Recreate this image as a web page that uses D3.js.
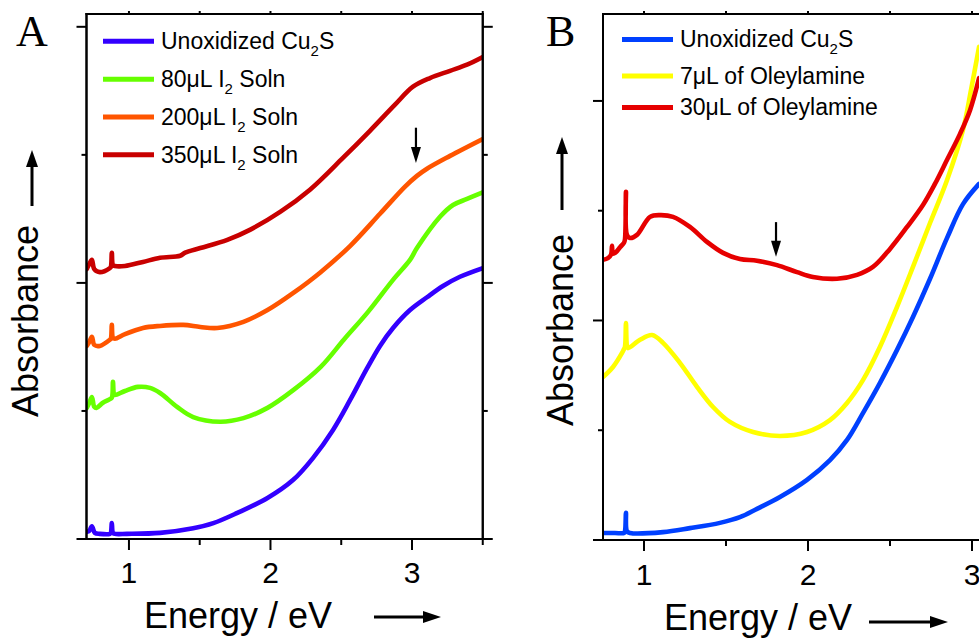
<!DOCTYPE html>
<html>
<head>
<meta charset="utf-8">
<script src="https://cdn.jsdelivr.net/npm/d3@7"></script>
<style>
  html, body { margin: 0; padding: 0; background: #fff; }
  svg { display: block; font-family: "Liberation Sans", Arial, sans-serif; }
</style>
</head>
<body>
<svg id="fig" width="979" height="639"></svg>
<script>
// ---- Panel A: Cu2S nanocrystals oxidized with I2 solution ----
// Each spectrum is a list of [energy (eV), absorbance (a.u., vertically offset)]
const unoxidizedA = [
  [0.702,0.014],[0.720,0.016],[0.738,0.025],[0.759,0.012],[0.794,0.010],[0.865,0.010],
  [0.872,0.012],[0.879,0.031],[0.887,0.012],[0.901,0.010],[0.986,0.010],[1.220,0.012],
  [1.454,0.021],[1.596,0.031],[1.766,0.051],[1.979,0.080],[2.159,0.115],[2.300,0.158],
  [2.442,0.213],[2.562,0.271],[2.682,0.333],[2.774,0.377],[2.866,0.412],[2.986,0.447],
  [3.106,0.472],[3.219,0.494],[3.339,0.512],[3.500,0.529]
];
const iodine80 = [
  [0.702,0.256],[0.720,0.266],[0.738,0.277],[0.755,0.258],[0.770,0.256],[0.816,0.266],
  [0.865,0.273],[0.879,0.276],[0.887,0.307],[0.894,0.283],[0.901,0.281],[0.972,0.289],
  [1.064,0.297],[1.149,0.295],[1.220,0.285],[1.340,0.258],[1.454,0.238],[1.645,0.229],
  [1.809,0.236],[1.979,0.256],[2.163,0.291],[2.355,0.336],[2.518,0.389],[2.688,0.443],
  [2.866,0.506],[2.986,0.545],[3.035,0.568],[3.198,0.629],[3.290,0.652],[3.389,0.664],
  [3.500,0.677]
];
const iodine200 = [
  [0.702,0.377],[0.720,0.385],[0.738,0.395],[0.755,0.379],[0.794,0.377],[0.865,0.389],
  [0.872,0.391],[0.879,0.418],[0.887,0.393],[0.901,0.391],[0.972,0.400],[1.099,0.412],
  [1.220,0.416],[1.383,0.418],[1.504,0.414],[1.624,0.412],[1.809,0.424],[1.979,0.447],
  [2.159,0.480],[2.350,0.520],[2.562,0.572],[2.774,0.635],[2.951,0.688],[3.035,0.709],
  [3.106,0.723],[3.269,0.748],[3.500,0.781]
];
const iodine350 = [
  [0.702,0.527],[0.720,0.537],[0.738,0.545],[0.755,0.527],[0.794,0.521],[0.865,0.529],
  [0.872,0.531],[0.879,0.559],[0.887,0.535],[0.901,0.533],[0.972,0.533],[1.099,0.541],
  [1.220,0.549],[1.362,0.553],[1.397,0.559],[1.504,0.568],[1.695,0.584],[1.858,0.604],
  [2.071,0.639],[2.279,0.682],[2.512,0.744],[2.703,0.797],[2.880,0.848],[3.007,0.883],
  [3.127,0.900],[3.269,0.914],[3.389,0.926],[3.500,0.941]
];
const labelsA = ["Unoxidized Cu_2S", "80\u03bcL I_2 Soln", "200\u03bcL I_2 Soln", "350\u03bcL I_2 Soln"];
const colorsA = ["#3300ff", "#66ff00", "#ff5500", "#c80000"];

// ---- Panel B: Cu2S nanocrystals treated with oleylamine ----
const unoxidizedB = [
  [0.750,0.016],[0.823,0.016],[0.878,0.016],[0.884,0.020],[0.890,0.062],[0.896,0.020],
  [0.915,0.016],[1.116,0.018],[1.280,0.027],[1.463,0.039],[1.585,0.052],[1.689,0.071],
  [1.829,0.098],[1.994,0.137],[2.134,0.182],[2.238,0.228],[2.335,0.289],[2.439,0.358],
  [2.543,0.433],[2.640,0.508],[2.744,0.595],[2.848,0.688],[2.945,0.765],[3.043,0.811]
];
const oleylamine7 = [
  [0.750,0.371],[0.811,0.394],[0.866,0.426],[0.878,0.435],[0.884,0.440],[0.890,0.494],
  [0.896,0.442],[0.902,0.437],[0.976,0.456],[1.049,0.467],[1.116,0.449],[1.220,0.403],
  [1.323,0.349],[1.421,0.303],[1.524,0.269],[1.665,0.246],[1.829,0.237],[1.994,0.246],
  [2.134,0.273],[2.238,0.312],[2.335,0.364],[2.439,0.440],[2.543,0.531],[2.640,0.622],
  [2.744,0.722],[2.848,0.820],[2.945,0.934],[2.994,1.025],[3.043,1.123]
];
const oleylamine30 = [
  [0.750,0.638],[0.780,0.642],[0.799,0.650],[0.805,0.670],[0.811,0.652],[0.830,0.656],
  [0.854,0.667],[0.878,0.677],[0.884,0.685],[0.890,0.793],[0.896,0.695],[0.915,0.688],
  [0.957,0.695],[1.037,0.736],[1.098,0.740],[1.177,0.736],[1.280,0.713],[1.384,0.679],
  [1.482,0.654],[1.585,0.640],[1.689,0.636],[1.811,0.626],[1.933,0.610],[2.030,0.599],
  [2.177,0.595],[2.299,0.604],[2.396,0.622],[2.500,0.663],[2.604,0.713],[2.701,0.763],
  [2.774,0.811],[2.848,0.866],[2.927,0.925],[2.988,0.979],[3.043,1.052]
];
const labelsB = ["Unoxidized Cu_2S", "7\u03bcL of Oleylamine", "30\u03bcL of Oleylamine"];
const colorsB = ["#0040ff", "#ffff00", "#e60000"];

// Shared tick values
const xMajor = [1, 2, 3];
const xMinorA = [1.5, 2.5, 3.5];
const xMinorB = [1.5, 2.5];
const yMajor = [0, 0.5, 1];
const yMinor = [0.25, 0.75];

// Feature markers: [energy, arrow tail absorbance, arrow tip absorbance]
const markerA = [3.028, 0.803, 0.734];
const markerB = [1.805, 0.724, 0.645];

const svg = d3.select("#fig");

function subscriptText(sel, label) {
  // "Cu_2S" -> Cu, subscript 2, S
  const parts = label.split(/_(.)/);
  parts.forEach((t, i) => {
    if (t === "") return;
    const sub = i % 2 === 1;
    const ts = sel.append("tspan").text(t);
    if (sub) ts.attr("font-size", 15).attr("dy", 7);
    else if (i > 0) ts.attr("dy", -7);
  });
}

function arrowHead(g, x, y, dir, len, half) {
  // dir: "up", "down", "right"
  let pts;
  if (dir === "up") pts = [[x, y], [x - half, y + len], [x + half, y + len]];
  else if (dir === "down") pts = [[x, y], [x - half, y - len], [x + half, y - len]];
  else pts = [[x, y], [x - len, y - half], [x - len, y + half]];
  g.append("polygon").attr("points", pts.map(p => p.join(",")).join(" ")).attr("fill", "#000");
}

function drawPanel(p) {
  const g = svg.append("g");
  const x = d3.scaleLinear().domain(p.xDomain).range([p.left, p.right]);
  const y = d3.scaleLinear().domain(p.yDomain).range([p.bottom, p.top]);

  const clipId = "clip" + p.name;
  svg.append("clipPath").attr("id", clipId).append("rect")
    .attr("x", p.left).attr("y", p.top - 2)
    .attr("width", p.right - p.left).attr("height", p.bottom - p.top + 2);

  const line = d3.line().x(d => x(d[0])).y(d => y(d[1])).curve(d3.curveCatmullRom.alpha(0.5));
  const curves = g.append("g").attr("clip-path", `url(#${clipId})`);
  p.series.forEach((s, i) => {
    curves.append("path").attr("d", line(s))
      .attr("fill", "none").attr("stroke", p.colors[i])
      .attr("stroke-width", 4.6).attr("stroke-linejoin", "round").attr("stroke-linecap", "round");
  });

  // Frame with mirrored ticks
  const ax = (gen, tx, ty) => {
    const a = g.append("g").attr("transform", `translate(${tx},${ty})`)
      .call(gen.tickSizeOuter(0).tickFormat("").offset(0));
    a.selectAll("path").attr("stroke", "#000").attr("stroke-width", 2).attr("stroke-linecap", "square");
    a.selectAll("line").attr("stroke", "#000").attr("stroke-width", 2);
    return a;
  };
  ax(d3.axisBottom(x).tickValues(xMajor).tickSize(11), 0, p.bottom);
  ax(d3.axisBottom(x).tickValues(p.xMinor).tickSize(6), 0, p.bottom);
  ax(d3.axisTop(x).tickValues(xMajor.concat(p.xMinor)).tickSize(3), 0, p.top);
  ax(d3.axisLeft(y).tickValues(yMajor).tickSize(10), p.left, 0);
  ax(d3.axisLeft(y).tickValues(yMinor).tickSize(5), p.left, 0);
  ax(d3.axisRight(y).tickValues(yMajor).tickSize(10), p.right, 0);
  ax(d3.axisRight(y).tickValues(yMinor).tickSize(5), p.right, 0);

  // Tick labels
  g.selectAll(".tick-label").data(xMajor).join("text")
    .attr("x", d => x(d)).attr("y", p.tickLabelY)
    .attr("text-anchor", "middle").attr("font-size", 30).attr("fill", "#000")
    .text(d => d);

  // Axis titles with direction arrows
  g.append("text").attr("x", p.xTitle[0]).attr("y", p.xTitle[1])
    .attr("font-size", 36).attr("fill", "#000").text("Energy / eV");
  g.append("line").attr("x1", p.xArrow[0]).attr("x2", p.xArrow[1] - 14)
    .attr("y1", p.xArrow[2]).attr("y2", p.xArrow[2]).attr("stroke", "#000").attr("stroke-width", 3);
  arrowHead(g, p.xArrow[1], p.xArrow[2], "right", 18, 6);

  g.append("text").attr("transform", `translate(${p.yTitle[0]},${p.yTitle[1]}) rotate(-90)`)
    .attr("text-anchor", "middle").attr("font-size", 36).attr("fill", "#000").text("Absorbance");
  g.append("line").attr("x1", p.yArrow[0]).attr("x2", p.yArrow[0])
    .attr("y1", p.yArrow[1]).attr("y2", p.yArrow[2] + 14).attr("stroke", "#000").attr("stroke-width", 3);
  arrowHead(g, p.yArrow[0], p.yArrow[2], "up", 17, 6);

  // Feature marker arrow
  const mx = x(p.marker[0]), my0 = y(p.marker[1]), my1 = y(p.marker[2]);
  g.append("line").attr("x1", mx).attr("x2", mx).attr("y1", my0).attr("y2", my1 - 12)
    .attr("stroke", "#000").attr("stroke-width", 2.2);
  arrowHead(g, mx, my1, "down", 16, 5);

  // Panel letter
  g.append("text").attr("x", p.letter[0]).attr("y", p.letter[1])
    .attr("font-family", "'Liberation Serif', 'Times New Roman', serif")
    .attr("font-size", 44).attr("fill", "#000").text(p.name);

  // Legend
  const lg = g.append("g");
  p.labels.forEach((lab, i) => {
    const cy = p.legend.rows[i];
    lg.append("line").attr("x1", p.legend.x0).attr("x2", p.legend.x0 + 51)
      .attr("y1", cy).attr("y2", cy).attr("stroke", p.colors[i]).attr("stroke-width", 5);
    const t = lg.append("text").attr("x", p.legend.x0 + 58).attr("y", cy + 7.8)
      .attr("font-size", 23).attr("fill", "#000");
    subscriptText(t, lab);
  });
}

drawPanel({
  name: "A",
  xDomain: [0.7, 3.5], left: 86.5, right: 482.75,
  yDomain: [0, 1.025], top: 14, bottom: 539,
  xMinor: xMinorA,
  series: [unoxidizedA, iodine80, iodine200, iodine350],
  colors: colorsA, labels: labelsA,
  tickLabelY: 583,
  xTitle: [144, 628], xArrow: [374, 441, 617],
  yTitle: [38, 321], yArrow: [32, 206, 150],
  marker: markerA,
  letter: [16, 46],
  legend: { x0: 103, rows: [41.3, 79.2, 117, 154.7] }
});

drawPanel({
  name: "B",
  xDomain: [0.75, 3.5], left: 603, right: 1054,
  yDomain: [0, 1.198], top: 14, bottom: 540,
  xMinor: xMinorB,
  series: [unoxidizedB, oleylamine7, oleylamine30],
  colors: colorsB, labels: labelsB,
  tickLabelY: 585,
  xTitle: [664, 630], xArrow: [869, 948, 622],
  yTitle: [573, 330], yArrow: [562, 210, 137],
  marker: markerB,
  letter: [546, 46],
  legend: { x0: 622, rows: [39.5, 76, 107.5] }
});
</script>
</body>
</html>
